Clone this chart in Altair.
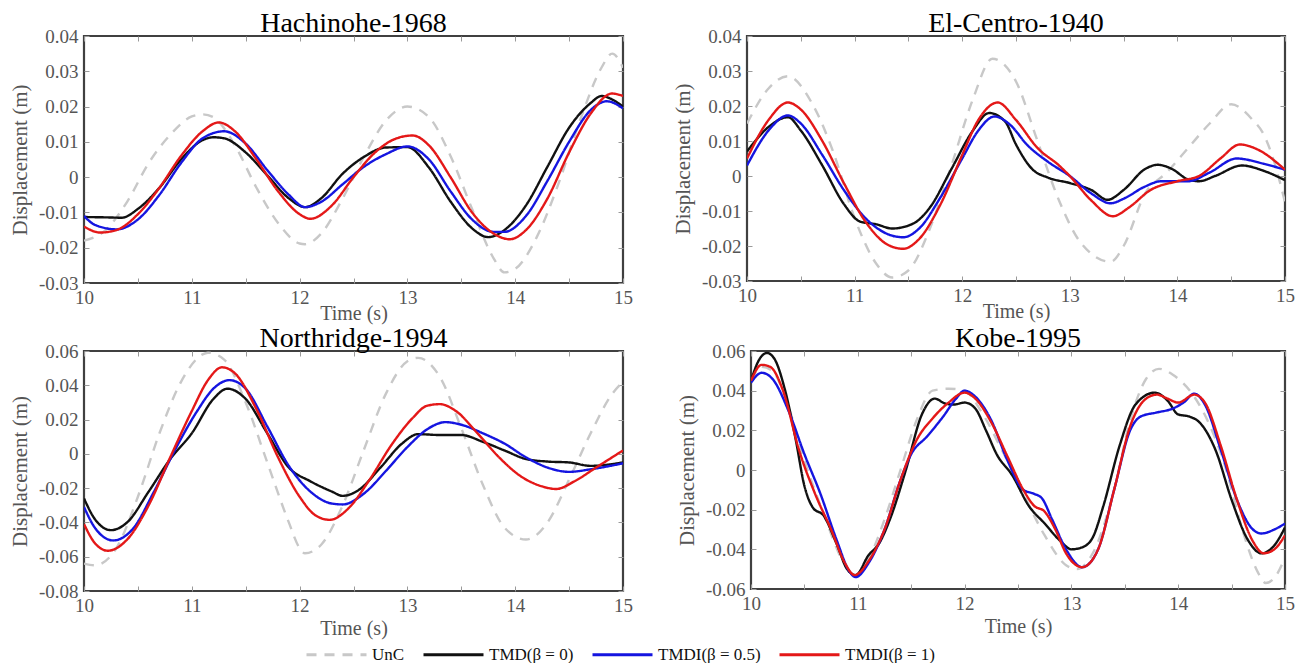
import altair as alt
import pandas as pd

SERIES = ["UnC", "TMD(β = 0)", "TMDI(β = 0.5)", "TMDI(β = 1)"]
COLORS = ["#c8c8c8", "#111111", "#1515e0", "#e41818"]
DASHES = [[10, 8], [1, 0], [1, 0], [1, 0]]
XTICKS = [10, 10.5, 11, 11.5, 12, 12.5, 13, 13.5, 14, 14.5, 15]

# ---------------- Hachinohe-1968 ----------------
h_unc_t = [10.0, 10.2, 10.4, 10.6, 10.8, 11.0, 11.1, 11.2, 11.4, 11.6, 11.8, 12.0, 12.05, 12.2, 12.4, 12.6, 12.8, 13.0, 13.2, 13.4, 13.6, 13.8, 13.9, 14.0, 14.2, 14.4, 14.6, 14.8, 14.9, 15.0]
h_unc_v = [-0.018, -0.015, -0.007, 0.004, 0.012, 0.0172, 0.0178, 0.017, 0.009, -0.003, -0.013, -0.0188, -0.019, -0.016, -0.006, 0.006, 0.016, 0.020, 0.017, 0.006, -0.009, -0.023, -0.027, -0.026, -0.017, -0.002, 0.016, 0.031, 0.035, 0.031]
h_tmd_t = [10.0, 10.2, 10.35, 10.5, 10.7, 10.9, 11.1, 11.2, 11.3, 11.5, 11.7, 11.9, 12.05, 12.2, 12.4, 12.6, 12.8, 13.0, 13.2, 13.4, 13.6, 13.75, 13.9, 14.1, 14.3, 14.5, 14.7, 14.8, 14.9, 15.0]
h_tmd_v = [-0.0113, -0.0114, -0.0115, -0.009, -0.003, 0.005, 0.0105, 0.0113, 0.011, 0.007, 0.0005, -0.006, -0.0085, -0.006, 0.001, 0.0058, 0.0084, 0.0085, 0.0027, -0.0069, -0.0145, -0.017, -0.015, -0.008, 0.003, 0.014, 0.021, 0.023, 0.022, 0.020]
h_b05_t = [10.0, 10.1, 10.3, 10.5, 10.7, 10.9, 11.1, 11.3, 11.5, 11.7, 11.9, 12.05, 12.2, 12.4, 12.6, 12.8, 13.0, 13.2, 13.4, 13.6, 13.8, 13.9, 14.1, 14.3, 14.5, 14.7, 14.85, 15.0]
h_b05_v = [-0.011, -0.0135, -0.0148, -0.012, -0.005, 0.004, 0.011, 0.013, 0.0095, 0.002, -0.005, -0.0085, -0.007, -0.002, 0.003, 0.0065, 0.0087, 0.005, -0.004, -0.012, -0.0155, -0.0155, -0.011, -0.001, 0.010, 0.019, 0.0215, 0.0195]
h_b1_t = [10.0, 10.15, 10.3, 10.5, 10.7, 10.9, 11.1, 11.25, 11.4, 11.6, 11.8, 12.0, 12.1, 12.3, 12.5, 12.7, 12.9, 13.05, 13.2, 13.4, 13.6, 13.8, 13.95, 14.1, 14.3, 14.5, 14.7, 14.9, 15.0]
h_b1_v = [-0.014, -0.0157, -0.015, -0.0105, -0.003, 0.006, 0.013, 0.0155, 0.013, 0.005, -0.004, -0.0105, -0.0118, -0.008, 0.000, 0.007, 0.011, 0.0118, 0.009, 0.000, -0.010, -0.016, -0.0176, -0.015, -0.006, 0.007, 0.018, 0.0237, 0.023]

# ---------------- El-Centro-1940 ----------------
e_unc_t = [10.0, 10.2, 10.38, 10.6, 10.8, 11.0, 11.2, 11.35, 11.5, 11.7, 11.9, 12.1, 12.28, 12.5, 12.7, 12.9, 13.1, 13.38, 13.5, 13.7, 13.9, 14.1, 14.3, 14.5, 14.7, 14.8, 14.9, 15.0]
e_unc_v = [0.015, 0.025, 0.0285, 0.021, 0.007, -0.012, -0.025, -0.029, -0.027, -0.015, 0.003, 0.022, 0.0335, 0.027, 0.010, -0.007, -0.019, -0.0245, -0.020, -0.005, 0.001, 0.008, 0.015, 0.0205, 0.016, 0.012, 0.004, -0.0075]
e_tmd_t = [10.0, 10.2, 10.38, 10.5, 10.7, 10.9, 11.05, 11.2, 11.35, 11.55, 11.7, 11.9, 12.1, 12.25, 12.4, 12.5, 12.65, 12.8, 13.0, 13.2, 13.35, 13.5, 13.7, 13.82, 13.95, 14.1, 14.2, 14.35, 14.6, 14.8, 15.0]
e_tmd_v = [0.007, 0.014, 0.0168, 0.013, 0.003, -0.008, -0.013, -0.0138, -0.015, -0.0135, -0.009, 0.002, 0.013, 0.018, 0.0155, 0.009, 0.002, -0.0005, -0.002, -0.004, -0.0068, -0.004, 0.002, 0.0032, 0.002, -0.001, -0.0015, 0.000, 0.003, 0.0015, -0.0012]
e_b05_t = [10.0, 10.2, 10.38, 10.5, 10.7, 10.9, 11.1, 11.3, 11.45, 11.6, 11.8, 12.0, 12.15, 12.3, 12.45, 12.6, 12.8, 13.0, 13.2, 13.38, 13.5, 13.7, 13.85, 14.1, 14.3, 14.55, 14.8, 15.0]
e_b05_v = [0.003, 0.013, 0.0173, 0.015, 0.006, -0.004, -0.012, -0.0165, -0.0175, -0.015, -0.006, 0.005, 0.013, 0.017, 0.0145, 0.009, 0.004, 0.000, -0.005, -0.0078, -0.0065, -0.003, -0.0015, -0.0015, 0.001, 0.005, 0.0035, 0.0018]
e_b1_t = [10.0, 10.2, 10.38, 10.5, 10.7, 10.9, 11.1, 11.3, 11.45, 11.6, 11.8, 12.0, 12.15, 12.33, 12.5, 12.7, 12.9, 13.0, 13.2, 13.4, 13.55, 13.75, 14.0, 14.2, 14.4, 14.58, 14.75, 15.0]
e_b1_v = [0.005, 0.016, 0.021, 0.019, 0.010, -0.002, -0.013, -0.0195, -0.0208, -0.018, -0.008, 0.006, 0.016, 0.021, 0.016, 0.008, 0.003, 0.000, -0.007, -0.0115, -0.009, -0.004, -0.0015, 0.000, 0.005, 0.009, 0.0075, 0.0018]

# ---------------- Northridge-1994 ----------------
n_unc_t = [10.0, 10.1, 10.3, 10.5, 10.7, 10.9, 11.1, 11.15, 11.3, 11.5, 11.7, 11.9, 12.0, 12.05, 12.2, 12.4, 12.6, 12.8, 13.0, 13.1, 13.3, 13.5, 13.7, 13.9, 14.1, 14.3, 14.5, 14.7, 14.9, 15.0]
n_unc_v = [-0.064, -0.065, -0.055, -0.025, 0.012, 0.042, 0.058, 0.059, 0.055, 0.030, -0.005, -0.040, -0.055, -0.058, -0.053, -0.030, 0.003, 0.035, 0.054, 0.056, 0.045, 0.015, -0.018, -0.043, -0.050, -0.040, -0.015, 0.012, 0.035, 0.042]
n_tmd_t = [10.0, 10.1, 10.25, 10.4, 10.6, 10.8, 11.0, 11.2, 11.33, 11.5, 11.7, 11.9, 12.1, 12.3, 12.4, 12.55, 12.75, 12.95, 13.1, 13.3, 13.5, 13.7, 13.9, 14.1, 14.3, 14.5, 14.7, 15.0]
n_tmd_v = [-0.026, -0.038, -0.0445, -0.040, -0.022, -0.003, 0.012, 0.032, 0.038, 0.032, 0.012, -0.008, -0.016, -0.022, -0.0245, -0.021, -0.008, 0.006, 0.0115, 0.011, 0.011, 0.007, 0.002, -0.003, -0.0045, -0.005, -0.007, -0.005]
n_b05_t = [10.0, 10.1, 10.27, 10.45, 10.65, 10.85, 11.05, 11.2, 11.35, 11.5, 11.7, 11.9, 12.1, 12.3, 12.4, 12.6, 12.8, 13.0, 13.2, 13.35, 13.5, 13.7, 13.9, 14.1, 14.3, 14.5, 14.7, 15.0]
n_b05_v = [-0.031, -0.043, -0.0505, -0.044, -0.022, 0.003, 0.025, 0.038, 0.043, 0.038, 0.016, -0.007, -0.022, -0.029, -0.0295, -0.023, -0.010, 0.004, 0.015, 0.0185, 0.017, 0.012, 0.006, -0.002, -0.008, -0.0105, -0.009, -0.0055]
n_b1_t = [10.0, 10.1, 10.22, 10.4, 10.6, 10.8, 11.0, 11.15, 11.28, 11.4, 11.6, 11.8, 12.0, 12.15, 12.28, 12.45, 12.65, 12.85, 13.05, 13.18, 13.3, 13.45, 13.65, 13.85, 14.05, 14.25, 14.38, 14.55, 14.75, 14.9, 15.0]
n_b1_v = [-0.041, -0.052, -0.0565, -0.050, -0.030, -0.002, 0.025, 0.043, 0.0505, 0.047, 0.026, -0.002, -0.025, -0.036, -0.0385, -0.032, -0.015, 0.005, 0.021, 0.028, 0.029, 0.025, 0.012, -0.002, -0.013, -0.019, -0.0205, -0.016, -0.008, -0.002, 0.002]

# ---------------- Kobe-1995 ----------------
k_unc_t = [10.0, 10.1, 10.2, 10.35, 10.5, 10.7, 10.85, 10.97, 11.1, 11.25, 11.4, 11.55, 11.7, 11.85, 12.0, 12.15, 12.35, 12.55, 12.75, 12.95, 13.05, 13.2, 13.4, 13.55, 13.7, 13.82, 13.95, 14.15, 14.3, 14.45, 14.6, 14.75, 14.82, 14.92, 15.0]
k_unc_v = [0.045, 0.052, 0.050, 0.032, 0.005, -0.025, -0.045, -0.053, -0.045, -0.025, 0.000, 0.025, 0.040, 0.041, 0.040, 0.030, 0.010, -0.012, -0.033, -0.048, -0.050, -0.042, -0.010, 0.025, 0.046, 0.051, 0.048, 0.037, 0.022, 0.000, -0.030, -0.052, -0.057, -0.053, -0.044]
k_tmd_t = [10.0, 10.07, 10.15, 10.22, 10.32, 10.42, 10.5, 10.58, 10.68, 10.8, 10.9, 10.98, 11.1, 11.2, 11.3, 11.45, 11.6, 11.72, 11.82, 11.9, 12.0, 12.1, 12.2, 12.3, 12.45, 12.6, 12.75, 12.9, 13.0, 13.1, 13.2, 13.3, 13.45, 13.6, 13.78, 13.9, 14.0, 14.1, 14.2, 14.35, 14.5, 14.65, 14.78, 14.9, 15.0]
k_tmd_v = [0.045, 0.055, 0.059, 0.056, 0.040, 0.015, -0.008, -0.019, -0.023, -0.037, -0.050, -0.053, -0.043, -0.037, -0.025, 0.000, 0.028, 0.036, 0.0335, 0.033, 0.034, 0.031, 0.020, 0.008, -0.003, -0.018, -0.027, -0.036, -0.040, -0.039, -0.034, -0.018, 0.012, 0.033, 0.039, 0.035, 0.028, 0.027, 0.024, 0.010, -0.015, -0.035, -0.042, -0.038, -0.029]
k_b05_t = [10.0, 10.1, 10.2, 10.35, 10.5, 10.65, 10.8, 10.92, 10.98, 11.1, 11.25, 11.4, 11.5, 11.65, 11.8, 11.92, 12.0, 12.1, 12.25, 12.4, 12.55, 12.65, 12.72, 12.82, 12.95, 13.1, 13.25, 13.4, 13.55, 13.65, 13.8, 13.95, 14.05, 14.15, 14.25, 14.4, 14.55, 14.7, 14.78, 14.9, 15.0]
k_b05_v = [0.044, 0.049, 0.046, 0.030, 0.008, -0.012, -0.035, -0.051, -0.054, -0.047, -0.030, -0.005, 0.008, 0.017, 0.027, 0.036, 0.040, 0.037, 0.025, 0.005, -0.010, -0.012, -0.014, -0.025, -0.040, -0.049, -0.040, -0.010, 0.020, 0.027, 0.029, 0.031, 0.034, 0.0385, 0.033, 0.010, -0.015, -0.030, -0.032, -0.030, -0.027]
k_b1_t = [10.0, 10.1, 10.18, 10.3, 10.45, 10.6, 10.75, 10.88, 10.97, 11.1, 11.25, 11.4, 11.55, 11.7, 11.85, 12.0, 12.1, 12.25, 12.4, 12.55, 12.65, 12.75, 12.85, 12.95, 13.1, 13.25, 13.4, 13.55, 13.7, 13.8, 13.9, 14.0, 14.15, 14.25, 14.4, 14.55, 14.7, 14.8, 14.9, 15.0]
k_b1_v = [0.045, 0.053, 0.052, 0.040, 0.010, -0.012, -0.030, -0.047, -0.053, -0.046, -0.030, -0.005, 0.015, 0.026, 0.034, 0.039, 0.036, 0.024, 0.007, -0.010, -0.018, -0.021, -0.030, -0.042, -0.049, -0.040, -0.010, 0.022, 0.036, 0.038, 0.036, 0.034, 0.038, 0.034, 0.012, -0.015, -0.036, -0.042, -0.040, -0.033]

FONT = "Liberation Serif"
GREY = "#555555"

YLABEL = "datum.value == 0 ? '0' : (datum.value < 0 ? '-' : '') + format(abs(datum.value), '.2f')"
XLABEL = "datum.value % 1 == 0 ? format(datum.value, 'd') : ''"

TXT = dict(labelFont=FONT, labelFontSize=19, labelColor=GREY,
           titleFont=FONT, titleColor=GREY, titleFontWeight="normal",
           tickColor="#9a9a9a", tickWidth=1)

legend = alt.Legend(
    orient="none", legendX=221, legendY=587, direction="horizontal", title=None,
    symbolType="stroke", symbolSize=3600, symbolStrokeWidth=2.8,
    labelFont=FONT, labelFontSize=17, labelColor="#111111",
    labelOffset=4, columnPadding=12,
)


def panel(title, ts, vs, ydom, yvals, h, w=539, tpad=-4):
    rows = []
    for s, tl, vl in zip(SERIES, ts, vs):
        for t, v in zip(tl, vl):
            rows.append({"t": t, "v": v, "series": s})
    df = pd.DataFrame(rows)
    xs = alt.Scale(domain=[10, 15], nice=False, zero=False)
    ys = alt.Scale(domain=ydom, nice=False, zero=False)
    lines = alt.Chart(df).mark_line(strokeWidth=2.4, interpolate="monotone", clip=True).encode(
        x=alt.X("t:Q", scale=xs, axis=alt.Axis(
            orient="bottom", values=XTICKS, labelExpr=XLABEL, title="Time (s)",
            offset=-5, tickSize=5, domain=False, grid=False, labelPadding=5,
            titlePadding=tpad, titleFontSize=20, labelFlush=False, labelOverlap=False, **TXT)),
        y=alt.Y("v:Q", scale=ys, axis=alt.Axis(
            orient="left", values=yvals, labelExpr=YLABEL, title="Displacement (m)",
            offset=-5, tickSize=5, domain=False, grid=False, labelPadding=6,
            titlePadding=8, titleFontSize=21, labelOverlap=False, **TXT)),
        color=alt.Color("series:N", scale=alt.Scale(domain=SERIES, range=COLORS), legend=legend, sort=SERIES),
        strokeDash=alt.StrokeDash("series:N", scale=alt.Scale(domain=SERIES, range=DASHES), legend=legend, sort=SERIES),
    )
    frame = alt.Chart(df).mark_line(opacity=0).encode(
        x=alt.X("t:Q", scale=xs, axis=alt.Axis(
            orient="top", values=XTICKS, labels=False, title=None,
            offset=-5, tickSize=5, domain=False, grid=False, tickColor="#9a9a9a")),
        y=alt.Y("v:Q", scale=ys, axis=alt.Axis(
            orient="right", values=yvals, labels=False, title=None,
            offset=-5, tickSize=5, domain=False, grid=False, tickColor="#9a9a9a")),
        detail="series:N",
    )
    return alt.layer(lines, frame).resolve_axis(x="independent", y="independent").properties(
        width=w, height=h,
        title=alt.TitleParams(title, font=FONT, fontSize=28, fontWeight="normal", color="black", offset=-11),
    )


p1 = panel("Hachinohe-1968", [h_unc_t, h_tmd_t, h_b05_t, h_b1_t], [h_unc_v, h_tmd_v, h_b05_v, h_b1_v],
           [-0.03, 0.04], [-0.03, -0.02, -0.01, 0, 0.01, 0.02, 0.03, 0.04], 247)
p2 = panel("El-Centro-1940", [e_unc_t, e_tmd_t, e_b05_t, e_b1_t], [e_unc_v, e_tmd_v, e_b05_v, e_b1_v],
           [-0.03, 0.04], [-0.03, -0.02, -0.01, 0, 0.01, 0.02, 0.03, 0.04], 245, 538)
p3 = panel("Northridge-1994", [n_unc_t, n_tmd_t, n_b05_t, n_b1_t], [n_unc_v, n_tmd_v, n_b05_v, n_b1_v],
           [-0.08, 0.06], [-0.08, -0.06, -0.04, -0.02, 0, 0.02, 0.04, 0.06], 240, tpad=3)
p4 = panel("Kobe-1995", [k_unc_t, k_tmd_t, k_b05_t, k_b1_t], [k_unc_v, k_tmd_v, k_b05_v, k_b1_v],
           [-0.06, 0.06], [-0.06, -0.04, -0.02, 0, 0.02, 0.04, 0.06], 238, 534, tpad=3)

chart = alt.vconcat(
    alt.hconcat(p1, p2, spacing=37),
    alt.hconcat(p3, p4, spacing=41),
    spacing=-2,
).properties(padding=0).configure_view(
    stroke="#404040", strokeWidth=2.2,
)

chart.save("out.html", embed_options={"renderer": "svg", "actions": False})
